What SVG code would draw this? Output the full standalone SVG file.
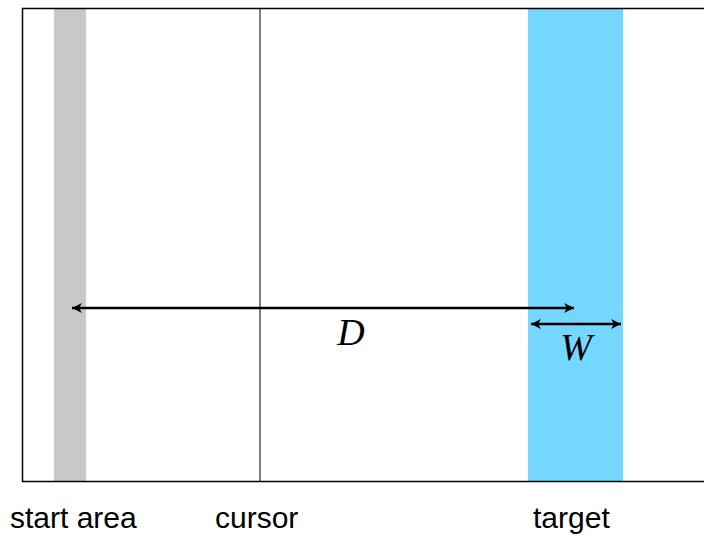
<svg xmlns="http://www.w3.org/2000/svg" width="704" height="536" viewBox="0 0 704 536">
<defs>
<marker id="ah" viewBox="0 0 10 10" refX="10" refY="5" markerWidth="14" markerHeight="10" markerUnits="userSpaceOnUse" orient="auto-start-reverse"><path d="M0,0 L10,5 L0,10 L3,5 Z" fill="#000"/></marker>
</defs>
<style>
.lbl{font-family:"Liberation Sans",Arial,sans-serif;font-size:30px;fill:#000}
.var{font-family:"Liberation Serif","Times New Roman",serif;font-style:italic;font-size:38px;fill:#000}
</style>
<rect x="0" y="0" width="704" height="536" fill="#fff"/>
<g id="start-area"><rect x="54" y="8" width="32" height="474" fill="#c8c8c8"/></g>
<g id="target"><rect x="528" y="8" width="95" height="474" fill="#75d6ff"/></g>
<g id="frame"><path d="M22.5,482 V8.5 H710 M22,481.5 H710" fill="none" stroke="#000" stroke-width="1.5"/></g>
<g id="cursor"><line x1="260" y1="8" x2="260" y2="482" stroke="#000" stroke-width="1"/></g>
<g id="connectors" stroke="#000" stroke-width="2.5" fill="none">
<line x1="72" y1="308" x2="574" y2="308" marker-start="url(#ah)" marker-end="url(#ah)"/>
<line x1="531" y1="324" x2="621" y2="324" marker-start="url(#ah)" marker-end="url(#ah)"/>
</g>
<text class="var" x="351" y="345" text-anchor="middle">D</text>
<text class="var" x="576" y="360" text-anchor="middle">W</text>
<text class="lbl" x="10" y="528">start area</text>
<text class="lbl" x="215" y="528">cursor</text>
<text class="lbl" x="533" y="528">target</text>
</svg>
